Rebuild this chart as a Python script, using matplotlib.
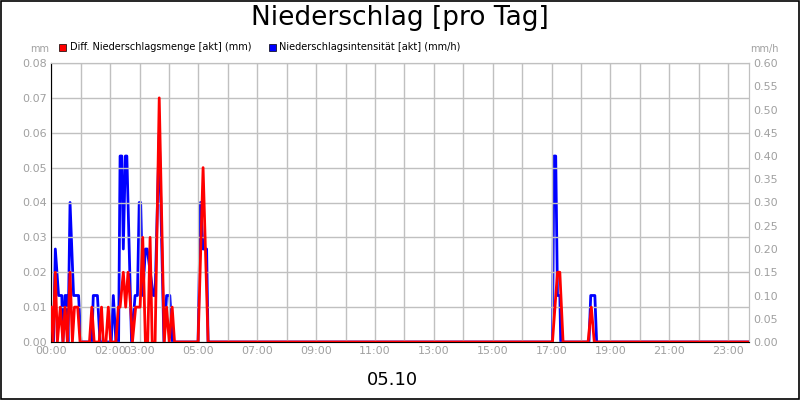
import matplotlib
matplotlib.use("Agg")
import matplotlib.pyplot as plt
from matplotlib.patches import Rectangle

# time in hours
RED_T = [0, 0.06, 0.14, 0.21, 0.31, 0.40, 0.47, 0.55, 0.64, 0.72,
         0.79, 0.90, 0.98, 1.30, 1.38, 1.46, 1.63, 1.71, 1.77, 1.86,
         1.94, 2.02, 2.20, 2.28, 2.34, 2.45, 2.53, 2.61, 2.70, 2.76,
         2.87, 3.02, 3.11, 3.20, 3.28, 3.36, 3.43, 3.53, 3.67, 3.84,
         3.92, 4.01, 4.11, 4.19, 4.99, 5.16, 5.33, 17.03, 17.20, 17.28,
         17.39, 18.24, 18.35, 18.45, 23.7]
RED_V = [0.01, 0, 0.02, 0, 0.01, 0, 0.01, 0, 0.02, 0,
         0.01, 0.01, 0, 0, 0.01, 0, 0, 0.01, 0, 0,
         0.01, 0, 0, 0.01, 0.01, 0.02, 0.01, 0.02, 0.01, 0,
         0.01, 0.01, 0.03, 0, 0, 0.03, 0, 0, 0.07, 0,
         0.01, 0, 0.01, 0, 0, 0.05, 0, 0, 0.02, 0.02,
         0, 0, 0.01, 0, 0]

BLUE_T = [0, 0.08, 0.14, 0.25, 0.36, 0.40, 0.47, 0.53, 0.57, 0.64,
          0.76, 0.93, 1.01, 1.38, 1.43, 1.57, 1.66, 2.04, 2.11, 2.20,
          2.29, 2.34, 2.40, 2.45, 2.52, 2.57, 2.73, 2.85, 2.93, 2.99,
          3.04, 3.11, 3.20, 3.26, 3.47, 3.53, 3.67, 3.83, 3.92, 4.03,
          4.12, 4.99, 5.07, 5.16, 5.28, 5.33, 17.03, 17.08, 17.14, 17.20,
          17.28, 17.31, 18.27, 18.33, 18.47, 18.53, 23.7]
BLUE_V = [0.05, 0, 0.2, 0.1, 0.1, 0, 0.1, 0.1, 0, 0.3,
          0.1, 0.1, 0, 0, 0.1, 0.1, 0, 0, 0.1, 0,
          0, 0.4, 0.4, 0.2, 0.4, 0.4, 0, 0.1, 0.1, 0.3,
          0.3, 0.1, 0.2, 0.2, 0.1, 0.1, 0.45, 0, 0.1, 0.1,
          0, 0, 0.3, 0.2, 0.2, 0, 0, 0.4, 0.4, 0.1,
          0.1, 0, 0, 0.1, 0.1, 0, 0]

TICK_HOURS = [0, 2, 3, 5, 7, 9, 11, 13, 15, 17, 19, 21, 23]
LEFT_TICKS = [0.00, 0.01, 0.02, 0.03, 0.04, 0.05, 0.06, 0.07, 0.08]
RIGHT_TICKS = [0.00, 0.05, 0.10, 0.15, 0.20, 0.25, 0.30, 0.35, 0.40, 0.45, 0.50, 0.55, 0.60]

GRAY = "#a0a0a0"
GRID = "#c0c0c0"

fig = plt.figure(figsize=(8, 4), dpi=100)
fig.patch.set_facecolor("white")
fig.patches.append(Rectangle((0.001, 0.002), 0.998, 0.996, transform=fig.transFigure,
                             fill=False, edgecolor="black", linewidth=1.2))

ax = fig.add_axes([0.064, 0.145, 0.872, 0.6975])
ax2 = ax.twinx()

ax.set_xlim(0, 23.7)
ax.set_ylim(0, 0.08)
ax2.set_ylim(0, 0.6)

ax.set_xticks(range(0, 24), minor=True)
ax.set_xticks(TICK_HOURS)
ax.set_xticklabels([f"{h:02d}:00" for h in TICK_HOURS], fontsize=8, color=GRAY)
ax.set_yticks(LEFT_TICKS)
ax.set_yticklabels([f"{v:.2f}" for v in LEFT_TICKS], fontsize=8, color=GRAY)
ax2.set_yticks(RIGHT_TICKS)
ax2.set_yticklabels([f"{v:.2f}" for v in RIGHT_TICKS], fontsize=8, color=GRAY)
ax.tick_params(which="both", length=0, pad=3)
ax2.tick_params(length=0, pad=3)
ax.grid(True, which="both", axis="x", color=GRID, linewidth=1)
ax.grid(True, which="major", axis="y", color=GRID, linewidth=1)
ax.set_axisbelow(True)

for a in (ax, ax2):
    for s in a.spines.values():
        s.set_color(GRID)
ax.spines["left"].set_color("black")
ax.spines["bottom"].set_color("black")

ax2.plot(BLUE_T, BLUE_V, color="#0000ff", linewidth=2, zorder=3)
ax.plot(RED_T, RED_V, color="#ff0000", linewidth=2, zorder=4)
ax.set_zorder(ax2.get_zorder() + 1)
ax.patch.set_visible(False)

fig.text(0.5, 0.955, "Niederschlag [pro Tag]", ha="center", va="center", fontsize=19)
fig.text(0.05, 0.878, "mm", ha="center", va="center", fontsize=7, color=GRAY)
fig.text(0.955, 0.878, "mm/h", ha="center", va="center", fontsize=7, color=GRAY)
fig.text(0.49, 0.05, "05.10", ha="center", va="center", fontsize=13)

fig.patches.append(Rectangle((0.074, 0.873), 0.009, 0.018, transform=fig.transFigure,
                             facecolor="#ff0000", edgecolor="black", linewidth=0.5))
fig.text(0.087, 0.882, "Diff. Niederschlagsmenge [akt] (mm)", va="center", fontsize=7)
fig.patches.append(Rectangle((0.336, 0.873), 0.009, 0.018, transform=fig.transFigure,
                             facecolor="#0000ff", edgecolor="black", linewidth=0.5))
fig.text(0.349, 0.882, "Niederschlagsintensität [akt] (mm/h)", va="center", fontsize=7)

fig.savefig("out.png", dpi=100, facecolor="white")
